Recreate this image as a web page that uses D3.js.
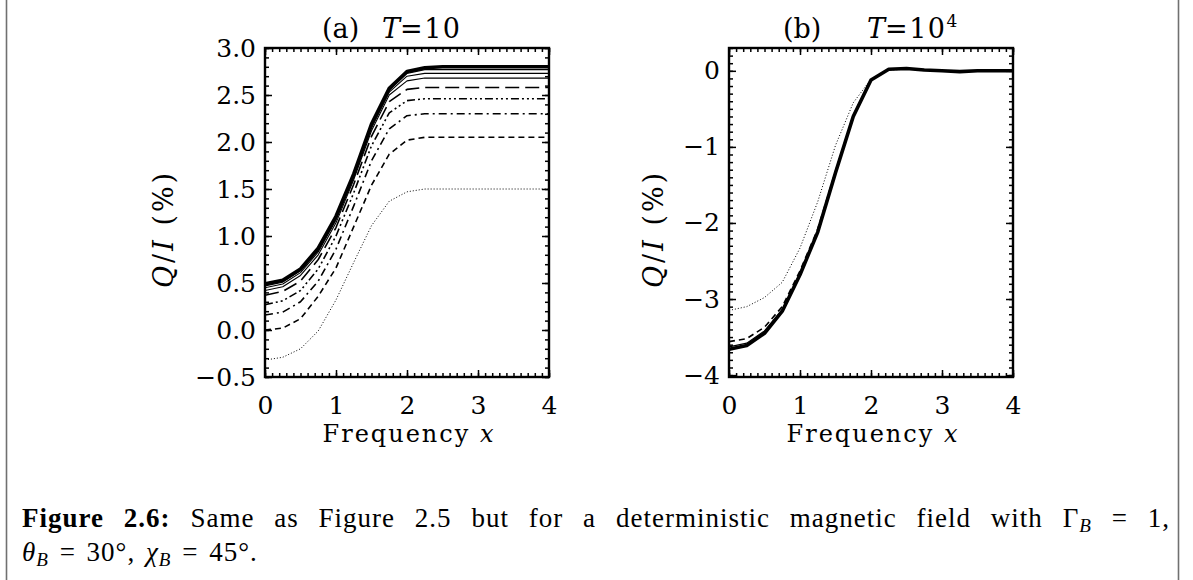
<!DOCTYPE html>
<html>
<head>
<meta charset="utf-8">
<script src="https://cdn.jsdelivr.net/npm/d3@7/dist/d3.min.js"></script>
<style>
  html, body { margin: 0; padding: 0; background: #fff; }
  svg { display: block; }
</style>
</head>
<body>
<svg class="js-graph"></svg>
<script>
/* <DATASET> */
var frequency = [0, 0.25, 0.5, 0.75, 1, 1.25, 1.5, 1.75, 2, 2.25, 2.5, 2.75, 3, 3.25, 3.5, 3.75, 4];

// panel (a) T = 10
var aDotted   = [-0.32, -0.29, -0.20, -0.01, 0.32, 0.72, 1.11, 1.37, 1.47, 1.50, 1.50, 1.50, 1.50, 1.50, 1.50, 1.50, 1.50];
var aDashed   = [0.00, 0.02, 0.12, 0.36, 0.66, 1.10, 1.54, 1.87, 2.02, 2.05, 2.05, 2.05, 2.05, 2.05, 2.05, 2.05, 2.05];
var aDashDot  = [0.16, 0.19, 0.30, 0.52, 0.86, 1.32, 1.80, 2.14, 2.28, 2.30, 2.30, 2.30, 2.30, 2.30, 2.30, 2.30, 2.30];
var aDash3Dot = [0.27, 0.31, 0.42, 0.65, 1.00, 1.46, 1.96, 2.31, 2.44, 2.46, 2.46, 2.46, 2.46, 2.46, 2.46, 2.46, 2.46];
var aLongDash = [0.37, 0.41, 0.52, 0.75, 1.09, 1.55, 2.06, 2.43, 2.56, 2.58, 2.58, 2.58, 2.58, 2.58, 2.58, 2.58, 2.58];
var aSolid4   = [0.42, 0.46, 0.58, 0.80, 1.14, 1.60, 2.12, 2.50, 2.65, 2.68, 2.68, 2.68, 2.68, 2.68, 2.68, 2.68, 2.68];
var aSolid3   = [0.45, 0.49, 0.61, 0.83, 1.17, 1.62, 2.15, 2.53, 2.70, 2.73, 2.73, 2.73, 2.73, 2.73, 2.73, 2.73, 2.73];
var aSolid2   = [0.47, 0.51, 0.63, 0.85, 1.19, 1.64, 2.17, 2.55, 2.73, 2.77, 2.77, 2.77, 2.77, 2.77, 2.77, 2.77, 2.77];
var aThick    = [0.49, 0.53, 0.65, 0.87, 1.21, 1.66, 2.19, 2.57, 2.75, 2.79, 2.80, 2.80, 2.80, 2.80, 2.80, 2.80, 2.80];

// panel (b) T = 10^4
var bDotted = [-3.15, -3.10, -2.98, -2.78, -2.33, -1.72, -0.98, -0.42, -0.11, 0.01, 0.02, 0.01, 0.00, 0.00, 0.00, 0.00, 0.00];
var bDashed = [-3.56, -3.52, -3.37, -3.10, -2.63, -2.08, -1.32, -0.59, -0.12, 0.02, 0.03, 0.01, 0.00, 0.00, 0.00, 0.00, 0.00];
var bSolid  = [-3.63, -3.58, -3.42, -3.14, -2.66, -2.10, -1.33, -0.60, -0.12, 0.02, 0.03, 0.01, 0.00, -0.01, 0.00, 0.00, 0.00];
var bThick  = [-3.66, -3.61, -3.45, -3.16, -2.68, -2.12, -1.34, -0.60, -0.12, 0.02, 0.03, 0.01, 0.00, -0.01, 0.00, 0.00, 0.00];

// axes
var xTicks = [0, 1, 2, 3, 4];
var aYTicks = [-0.5, 0.0, 0.5, 1.0, 1.5, 2.0, 2.5, 3.0];
var bYTicks = [-4, -3, -2, -1, 0];
/* </DATASET> */

(function myFigure(d3) {
  var W = 1193, H = 580;
  var serif = '"DejaVu Serif", serif';

  // IDL linestyles: 0 solid, 1 dotted, 2 dashed, 3 dash-dot, 4 dash-dot-dot-dot, 5 long dash
  var DASH = {
    solid: null,
    dotted: '1,2',
    dashed: '6,4',
    dashDot: '8,4,2,4',
    dash3Dot: '8,3,2,3,2,3,2,3',
    longDash: '14,6'
  };

  var svg = d3.select('.js-graph').attr('width', W).attr('height', H);

  // page frame (left/right margins of the scanned page)
  svg.append('line').attr('x1', 6.5).attr('x2', 6.5).attr('y1', 0).attr('y2', H)
    .attr('stroke', '#707070').attr('stroke-width', 1.6);
  svg.append('line').attr('x1', 1178.5).attr('x2', 1178.5).attr('y1', 0).attr('y2', H)
    .attr('stroke', '#707070').attr('stroke-width', 1.6);

  function minorRange(lo, hi, step) {
    var out = [];
    var n = Math.round((hi - lo) / step);
    for (var i = 0; i <= n; i++) out.push(+(lo + i * step).toFixed(4));
    return out;
  }

  /* <PANEL> */
  function Panel(params) {
    Object.assign(this, params);
  }
  Panel.prototype = {
    render: function renderPanel() {
      var b = this.box;
      this.x = d3.scaleLinear().domain([0, 4]).range([b.left, b.right]);
      this.y = d3.scaleLinear().domain(this.yDomain).range([b.bottom, b.top]);
      this.g = svg.append('g');
      this.drawLines();
      this.drawAxes();
      this.drawTexts();
    },
    drawLines: function drawLines() {
      var x = this.x, y = this.y;
      var line = d3.line()
        .x(function (d) { return x(d[0]); })
        .y(function (d) { return y(d[1]); });
      var clipId = 'clip-' + this.name;
      var b = this.box;
      this.g.append('clipPath').attr('id', clipId).append('rect')
        .attr('x', b.left).attr('y', b.top)
        .attr('width', b.right - b.left).attr('height', b.bottom - b.top);
      var lg = this.g.append('g').attr('clip-path', 'url(#' + clipId + ')');
      this.series.forEach(function (s) {
        var pts = frequency.map(function (f, i) { return [f, s.values[i]]; });
        lg.append('path')
          .attr('d', line(pts))
          .attr('fill', 'none')
          .attr('stroke', '#000')
          .attr('stroke-width', s.width || 1)
          .attr('stroke-linejoin', 'round')
          .attr('stroke-dasharray', DASH[s.style]);
      });
    },
    drawAxes: function drawAxes() {
      var b = this.box, g = this.g;
      var xMinor = minorRange(0, 4, 0.1);
      var yMinor = minorRange(this.yMinor[0], this.yMinor[1], 0.1);
      var yFmt = this.yFormat;

      function put(gen, tx, ty) {
        var a = g.append('g')
          .attr('transform', 'translate(' + tx + ',' + ty + ')')
          .call(gen);
        a.select('.domain').remove();
        a.selectAll('.tick line').attr('stroke', '#000').attr('stroke-width', 1.5);
        a.selectAll('.tick text')
          .attr('font-size', 25).attr('font-family', serif).attr('fill', '#000');
        return a;
      }

      // bottom
      put(d3.axisBottom(this.x).tickValues(xTicks).tickSize(-7).tickPadding(19)
        .tickFormat(d3.format('d')), 0, b.bottom);
      put(d3.axisBottom(this.x).tickValues(xMinor).tickSize(-4).tickFormat(''), 0, b.bottom);
      // top
      put(d3.axisTop(this.x).tickValues(xTicks).tickSize(-7).tickFormat(''), 0, b.top);
      put(d3.axisTop(this.x).tickValues(xMinor).tickSize(-4).tickFormat(''), 0, b.top);
      // left
      put(d3.axisLeft(this.y).tickValues(this.yTicks).tickSize(-7).tickPadding(9)
        .tickFormat(yFmt), b.left, 0);
      put(d3.axisLeft(this.y).tickValues(yMinor).tickSize(-4).tickFormat(''), b.left, 0);
      // right
      put(d3.axisRight(this.y).tickValues(this.yTicks).tickSize(-7).tickFormat(''), b.right, 0);
      put(d3.axisRight(this.y).tickValues(yMinor).tickSize(-4).tickFormat(''), b.right, 0);

      g.append('rect')
        .attr('x', b.left).attr('y', b.top)
        .attr('width', b.right - b.left).attr('height', b.bottom - b.top)
        .attr('fill', 'none').attr('stroke', '#000').attr('stroke-width', 2.4);
    },
    drawTexts: function drawTexts() {
      var b = this.box, g = this.g;
      var cx = (b.left + b.right) / 2;

      // title
      var t = g.append('text')
        .attr('y', 38)
        .attr('font-family', serif).attr('font-size', 27);
      t.append('tspan').attr('x', this.titleX[0]).text(this.label);
      t.append('tspan').attr('x', this.titleX[1]).attr('font-style', 'italic').text('T');
      t.append('tspan').attr('letter-spacing', 1.5).text('=10');
      if (this.titleSup) {
        t.append('tspan').attr('dy', -11).attr('font-size', 17).text(this.titleSup);
      }

      // x title
      var xt = g.append('text')
        .attr('x', cx + 2).attr('y', 442)
        .attr('text-anchor', 'middle')
        .attr('letter-spacing', 2)
        .attr('font-family', serif).attr('font-size', 24);
      xt.append('tspan').text('Frequency ');
      xt.append('tspan').attr('font-style', 'italic').text('x');

      // y title
      var yt = g.append('text')
        .attr('transform', 'translate(' + this.yTitleX + ',229) rotate(-90)')
        .attr('text-anchor', 'middle')
        .attr('letter-spacing', 3)
        .attr('font-family', serif).attr('font-size', 27);
      yt.append('tspan').attr('font-style', 'italic').text('Q');
      yt.append('tspan').text('/');
      yt.append('tspan').attr('font-style', 'italic').text('I');
      yt.append('tspan').text(' (%)');
    }
  };
  /* </PANEL> */

  var panelA = new Panel({
    name: 'a',
    box: { left: 265, right: 549, top: 48, bottom: 377 },
    yDomain: [-0.5, 3.0],
    yTicks: aYTicks,
    yMinor: [-0.5, 3.0],
    yFormat: d3.format('.1f'),
    label: '(a)',
    titleX: [322, 382],
    titleSup: null,
    yTitleX: 173,
    series: [
      { values: aDotted, style: 'dotted', width: 1 },
      { values: aDashed, style: 'dashed', width: 1.6 },
      { values: aDashDot, style: 'dashDot', width: 1.6 },
      { values: aDash3Dot, style: 'dash3Dot', width: 1.6 },
      { values: aLongDash, style: 'longDash', width: 1.6 },
      { values: aSolid4, style: 'solid', width: 1.1 },
      { values: aSolid3, style: 'solid', width: 1.1 },
      { values: aSolid2, style: 'solid', width: 1.3 },
      { values: aThick, style: 'solid', width: 3.6 }
    ]
  });

  var panelB = new Panel({
    name: 'b',
    box: { left: 729, right: 1013, top: 48, bottom: 377 },
    yDomain: [-4.025, 0.3],
    yTicks: bYTicks,
    yMinor: [-4.0, 0.3],
    yFormat: d3.format('d'),
    label: '(b)',
    titleX: [783, 867],
    titleSup: '4',
    yTitleX: 663,
    series: [
      { values: bDotted, style: 'dotted', width: 1 },
      { values: bDashed, style: 'dashed', width: 1.6 },
      { values: bSolid, style: 'solid', width: 1.2 },
      { values: bThick, style: 'solid', width: 3.6 }
    ]
  });

  panelA.render();
  panelB.render();

  /* <CAPTION> */
  var capFont = '"Liberation Serif", serif';
  var cap1 = svg.append('text')
    .attr('x', 22).attr('y', 527)
    .attr('font-family', capFont).attr('font-size', 27)
    .attr('letter-spacing', 1);
  cap1.append('tspan').attr('font-weight', 'bold').text('Figure 2.6:');
  cap1.append('tspan').text(' Same as Figure 2.5 but for a deterministic magnetic field with \u0393');
  cap1.append('tspan').attr('font-style', 'italic').attr('font-size', 19).attr('dy', 5).text('B');
  cap1.append('tspan').attr('dy', -5).text(' = 1,');

  // justify first line like LaTeX by widening the spaces
  var natural = cap1.node().getComputedTextLength();
  var spaces = 15;
  var target = 1170 - 22;
  cap1.attr('word-spacing', Math.max(0, (target - natural) / spaces));

  var cap2 = svg.append('text')
    .attr('x', 22).attr('y', 561)
    .attr('font-family', capFont).attr('font-size', 27)
    .attr('letter-spacing', 1)
    .attr('word-spacing', 3);
  cap2.append('tspan').attr('font-style', 'italic').text('\u03b8');
  cap2.append('tspan').attr('font-style', 'italic').attr('font-size', 19).attr('dy', 5).text('B');
  cap2.append('tspan').attr('dy', -5).text(' = 30\u00b0, ');
  cap2.append('tspan').attr('font-style', 'italic').text('\u03c7');
  cap2.append('tspan').attr('font-style', 'italic').attr('font-size', 19).attr('dy', 5).text('B');
  cap2.append('tspan').attr('dy', -5).text(' = 45\u00b0.');
  /* </CAPTION> */
}(d3));
</script>
</body>
</html>
